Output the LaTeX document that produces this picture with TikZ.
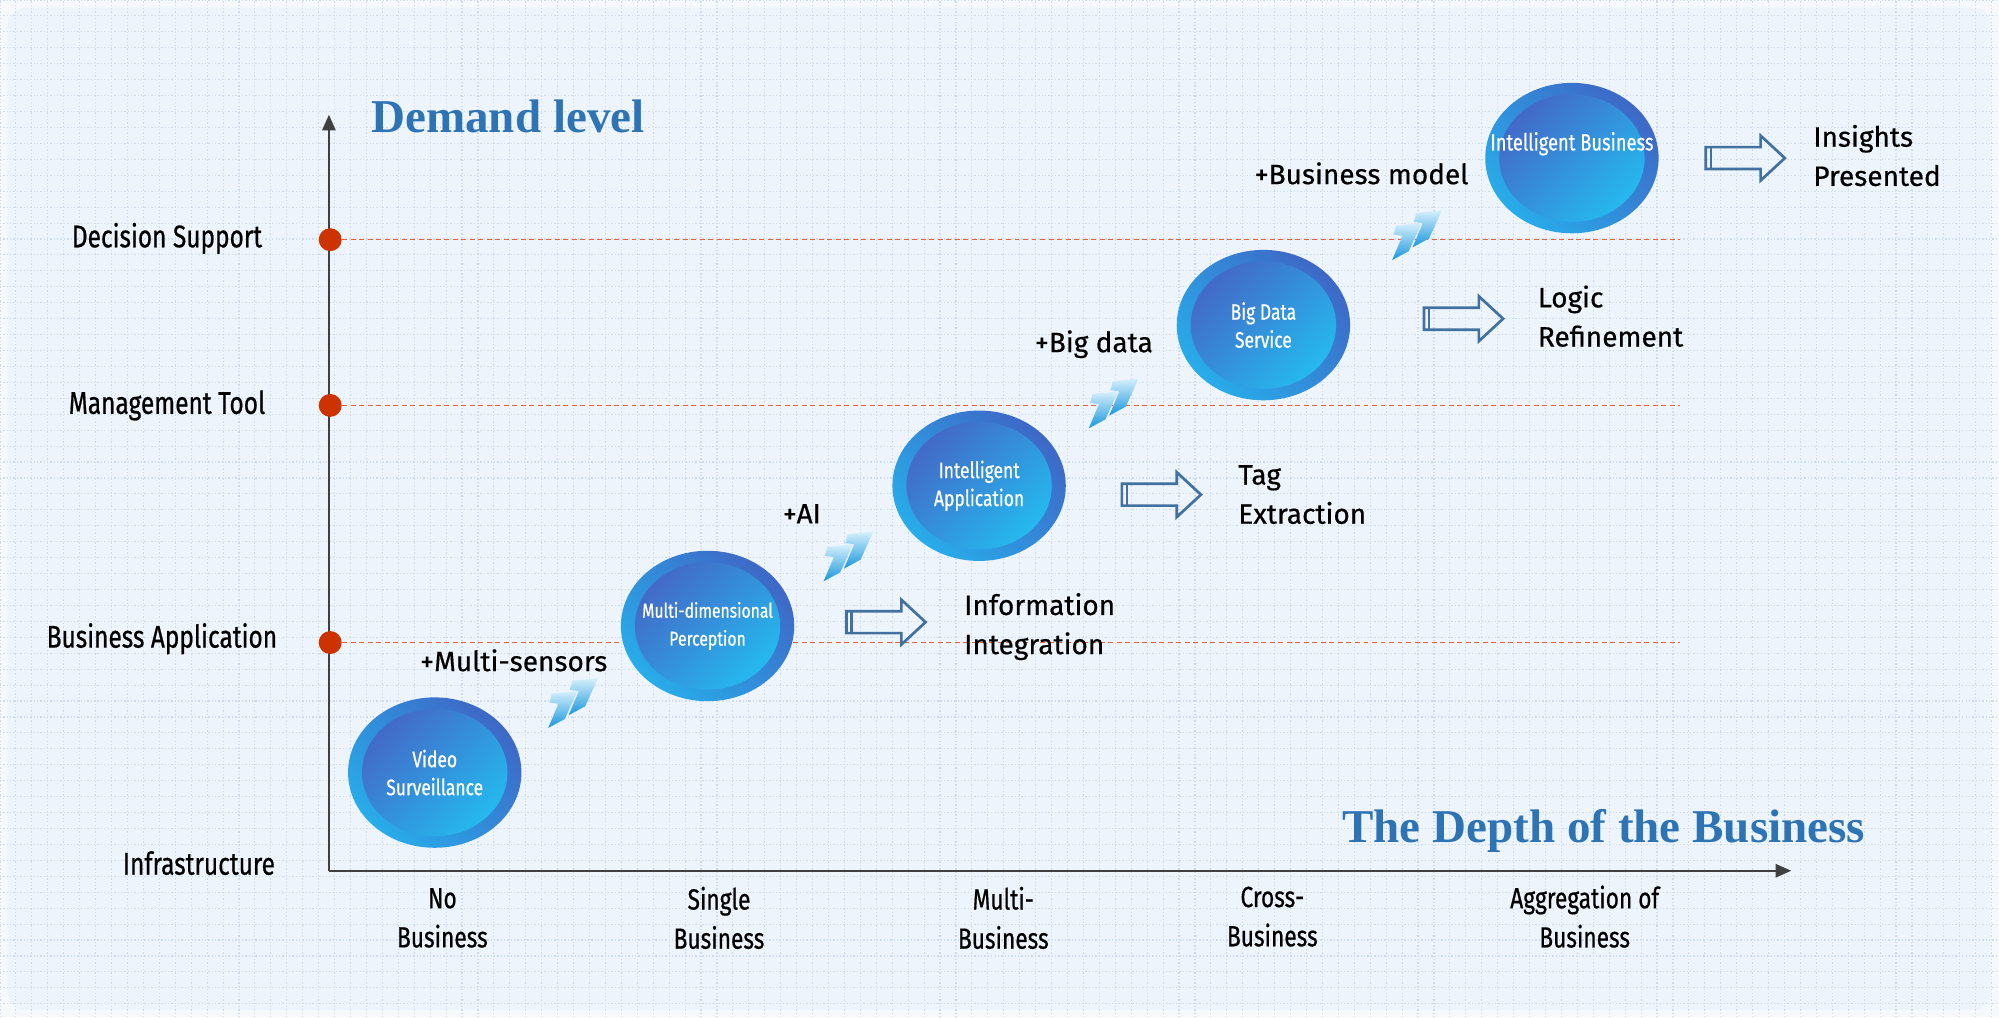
\documentclass[tikz,border=0pt]{standalone}
\usepackage{fontspec}
\setmainfont{Fira Sans}[FakeBold=0.5]
\newfontfamily\narrowfont{Fira Sans}[FakeStretch=0.78, FakeBold=0.6]
\newfontfamily\titlefont{Liberation Serif}
\usetikzlibrary{arrows.meta, positioning, shapes.geometric, calc}
\definecolor{bgblue}{RGB}{237,244,251}
\definecolor{bgedge}{RGB}{246,249,252}
\definecolor{gridblue}{RGB}{206,219,235}
\definecolor{titleblue}{RGB}{46,116,181}
\definecolor{axisgray}{RGB}{64,64,64}
\definecolor{dotred}{RGB}{204,51,0}
\definecolor{guidered}{RGB}{230,96,60}
\definecolor{ringcyan}{RGB}{40,172,234}
\definecolor{ringblue}{RGB}{62,104,198}
\definecolor{coredark}{RGB}{70,98,196}
\definecolor{corecyan}{RGB}{34,192,242}
\definecolor{chevlight}{RGB}{214,240,252}
\definecolor{chevdark}{RGB}{24,150,222}
\definecolor{outline}{RGB}{65,113,160}
\newcommand{\fixw}[1]{\makebox[0pt]{#1}}

\begin{document}
\begin{tikzpicture}[
    x=0.02cm, y=-0.02cm,
    headline/.style={font=\titlefont\bfseries\fontsize{21}{24}\selectfont, text=titleblue, inner sep=0pt},
    tierlabel/.style={font=\narrowfont\fontsize{14}{16}\selectfont, inner sep=0pt},
    depthlabel/.style={font=\narrowfont\fontsize{13}{17.5}\selectfont, align=center, inner sep=0pt},
    stage/.style={ellipse, minimum width=2.72cm, minimum height=2.36cm, inner sep=0pt, align=center,
        text=white, font=\narrowfont\fontsize{10}{12.5}\selectfont,
        top color=ringblue, bottom color=ringcyan, shading angle=-45,
        path picture={\shade[top color=coredark, bottom color=corecyan, shading angle=45]
            (path picture bounding box.center) ellipse [x radius=1.14cm, y radius=1.0cm];}},
    addon/.style={font=\fontsize{12.5}{15}\selectfont, inner sep=0pt},
    outcome/.style={font=\fontsize{12.5}{17.5}\selectfont, align=left, anchor=west, inner sep=0pt},
    leveldot/.style={circle, fill=dotred, minimum size=0.36cm, inner sep=0pt},
    guide/.style={guidered, line width=0.6pt, dash pattern=on 2.2pt off 1.6pt},
    axisline/.style={-{Triangle[length=7pt, width=6pt]}, axisgray, line width=0.8pt},
    blockarrow/.pic={
        \draw[outline, line width=1.2pt] (0,-8.6) -- (43,-8.6) -- (43,-17.6) -- (62,0)
            -- (43,17.6) -- (43,8.6) -- (0,8.6) -- cycle;
        \draw[outline, line width=1.2pt] (4,-8.6) -- (4,8.6);
    },
    twinchevron/.pic={
        \foreach \dx/\dy in {0/10, 16/0}
            \shade[top color=chevlight, bottom color=chevdark, shift={(\dx,\dy)}]
                (4,1) -- (24,-1) -- (14,21) -- (1,28) -- (9,9) -- (2,8) -- cycle;
    }
]
\useasboundingbox (0,0) rectangle (1568,798);

% Background
\fill[bgedge] (0,0) rectangle (1568,798);
\fill[bgblue, rounded corners=8pt] (6,6) rectangle (1562,792);
\draw[gridblue, line width=0.5pt, dash pattern=on 0.6pt off 0.9pt, step=0.25cm] (0,798) grid (1568,0);

% Axes
\coordinate (origin) at (258,683);
\coordinate (ytip) at (258,90);
\coordinate (xtip) at (1405,683);
\coordinate (guideend) at (1318,0);
\draw[axisline] (origin) -- (ytip);
\draw[axisline] (origin) -- (xtip);

\node[headline, anchor=west] (demand) at (291,91) {Demand level};
\node[headline] (depthtitle) at (1258,652) {The Depth of the Business};

% Demand levels
\node[leveldot] (dotdecision) at (259,188) {};
\node[leveldot] (dotmanage) at (259,318) {};
\node[leveldot] (dotapp) at (259,504) {};
\draw[guide] (dotdecision.east) -- (dotdecision.east -| guideend);
\draw[guide] (dotmanage.east) -- (dotmanage.east -| guideend);
\draw[guide] (dotapp.east) -- (dotapp.east -| guideend);

\node[tierlabel] (decision) at (131,187) {Decision Support};
\node[tierlabel] (manage) at (131,318) {Management Tool};
\node[tierlabel] (bizapp) at (127,501) {Business Application};
\node[tierlabel] (infra) at (156,677) {Infrastructure};

% Business depth
\node[depthlabel] (nobiz) at (347,720) {No\\Business};
\node[depthlabel] (singlebiz) at (564,720) {Single\\Business};
\node[depthlabel] (multibiz) at (787,720) {Multi-\\Business};
\node[depthlabel] (crossbiz) at (998,719) {Cross-\\Business};
\node[depthlabel] (aggbiz) at (1243,719) {Aggregation of\\Business};

% Stages
\node[stage] (video) at (341,606) {\fixw{Video}\\\fixw{Surveillance}};
\node[stage, font=\narrowfont\fontsize{9}{12.5}\selectfont] (perception) at (555,491) {\fixw{Multi-dimensional}\\\fixw{Perception}};
\node[stage] (application) at (768,381) {\fixw{Intelligent}\\\fixw{Application}};
\node[stage] (bigdata) at (991,255) {\fixw{Big Data}\\\fixw{Service}};
\node[stage, font=\narrowfont\fontsize{10.5}{15}\selectfont] (business) at (1233,124) {\fixw{Intelligent Business}\\\mbox{}};

% Additions
\pic at (429,533) {twinchevron};
\pic at (645,418) {twinchevron};
\pic at (853,298) {twinchevron};
\pic at (1091,166) {twinchevron};
\node[addon] (sensors) at (403,518) {+Multi-sensors};
\node[addon] (ai) at (629,403) {+AI};
\node[addon] (data) at (858,270) {+Big data};
\node[addon] (model) at (1068,136) {+Business model};

% Outcomes
\pic at (664,488) {blockarrow};
\pic at (880,388) {blockarrow};
\pic at (1117,250) {blockarrow};
\pic at (1338,124) {blockarrow};
\node[outcome] (integration) at (756,491.5) {Information\\Integration};
\node[outcome] (extraction) at (971,388) {Tag\\Extraction};
\node[outcome] (refinement) at (1206,248) {Logic\\Refinement};
\node[outcome] (insights) at (1422,122) {Insights\\Presented};

\end{tikzpicture}
\end{document}
